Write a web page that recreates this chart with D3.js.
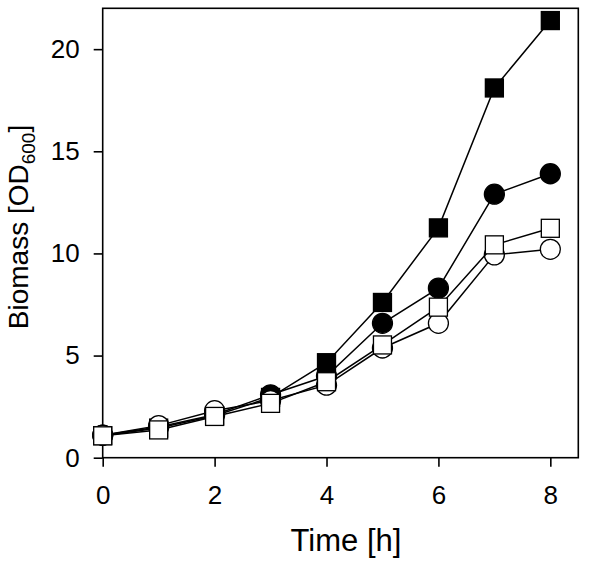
<!DOCTYPE html>
<html><head><meta charset="utf-8">
<script src="https://cdn.jsdelivr.net/npm/d3@7"></script>
<style>body{margin:0;background:#fff}svg{display:block}text{font-family:Arial,"Liberation Sans",sans-serif}</style>
</head><body>
<svg id="c" width="600" height="563"></svg>
<script>
const time = [0,1,2,3,4,5,6,7,8];
const filledSquare = [1.08,1.45,2.05,2.95,4.65,7.6,11.25,18.1,21.4];
const filledCircle = [1.1,1.5,2.1,3.08,4.0,6.58,8.3,12.9,13.9];
const openCircle   = [1.1,1.57,2.3,2.8,3.55,5.37,6.58,9.93,10.2];
const openSquare   = [1.07,1.36,2.02,2.66,3.72,5.52,7.37,10.42,11.23];
const xTicks = [0,2,4,6,8];
const yTicks = [0,5,10,15,20];
const series = [
  {name:"filledSquare", values:filledSquare, shape:"square", fill:"#000"},
  {name:"filledCircle", values:filledCircle, shape:"circle", fill:"#000"},
  {name:"openCircle", values:openCircle, shape:"circle", fill:"#fff"},
  {name:"openSquare", values:openSquare, shape:"square", fill:"#fff"}
];
const L=102.7,R=578.3,T=8.3,B=457.7;
const svg=d3.select("#c");
const x=d3.scaleLinear().domain([0,8.5]).range([L,R]);
const y=d3.scaleLinear().domain([0,22]).range([B,T]);
svg.append("rect").attr("x",L).attr("y",T).attr("width",R-L).attr("height",B-T)
  .attr("fill","none").attr("stroke","#000").attr("stroke-width",1.6);
const xa=svg.append("g").attr("transform",`translate(0,${B})`)
  .call(d3.axisBottom(x).tickValues(xTicks).tickSize(9).tickPadding(19).tickFormat(d3.format("d")));
const ya=svg.append("g").attr("transform",`translate(${L},0)`)
  .call(d3.axisLeft(y).tickValues(yTicks).tickSize(9).tickPadding(14).tickFormat(d3.format("d")));
[xa,ya].forEach(a=>{a.select(".domain").remove();
  a.selectAll(".tick line").attr("stroke","#000").attr("stroke-width",1.6);
  a.selectAll(".tick text").attr("fill","#000").style("font-size","26px").style("font-family","Arial, 'Liberation Sans', sans-serif");});
const line=d3.line().x((d,i)=>x(time[i])).y(d=>y(d));
series.forEach(s=>{
  const g=svg.append("g");
  g.append("path").attr("d",line(s.values)).attr("fill","none").attr("stroke","#000").attr("stroke-width",1.5);
  s.values.forEach((v,i)=>{
    if(s.shape==="square"){
      g.append("rect").attr("x",x(time[i])-9).attr("y",y(v)-9).attr("width",18).attr("height",18)
        .attr("fill",s.fill).attr("stroke","#000").attr("stroke-width",1.3);
    } else {
      g.append("circle").attr("cx",x(time[i])).attr("cy",y(v)).attr("r",10)
        .attr("fill",s.fill).attr("stroke","#000").attr("stroke-width",1.3);
    }
  });
});
svg.append("text").attr("x",346).attr("y",551).attr("text-anchor","middle")
  .style("font-size","31px").text("Time [h]");
const yl=svg.append("text").attr("transform",`translate(28,227) rotate(-90)`).attr("text-anchor","middle")
  .style("font-size","28px");
yl.append("tspan").text("Biomass [OD");
yl.append("tspan").attr("dy",7).style("font-size","19px").text("600");
yl.append("tspan").attr("dy",-7).text("]");
</script>
</body></html>
